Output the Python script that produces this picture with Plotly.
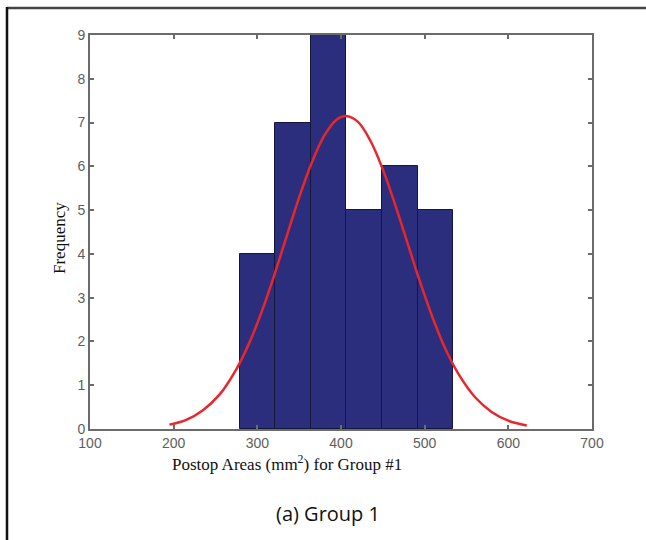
import plotly.graph_objects as go

# Histogram bins (Postop areas, mm^2) and counts
bin_edges = [279, 321.5, 364, 406.5, 449, 491.5, 534]
counts = [4, 7, 9, 5, 6, 5]

# Fitted curve points
curve_x = [195, 215, 235, 255, 275, 290, 305, 320, 335, 350, 365, 380, 395, 406,
           420, 435, 450, 465, 480, 495, 510, 525, 540, 560, 580, 600, 622]
curve_y = [0.10, 0.21, 0.43, 0.79, 1.37, 1.95, 2.67, 3.50, 4.40, 5.29, 6.08, 6.70, 7.07, 7.15,
           7.02, 6.59, 5.93, 5.11, 4.22, 3.33, 2.52, 1.82, 1.27, 0.73, 0.39, 0.19, 0.08]

x_ticks = [100, 200, 300, 400, 500, 600, 700]
y_ticks = [0, 1, 2, 3, 4, 5, 6, 7, 8, 9]

centers = [(a + b) / 2 for a, b in zip(bin_edges[:-1], bin_edges[1:])]
widths = [b - a for a, b in zip(bin_edges[:-1], bin_edges[1:])]

fig = go.Figure()
fig.add_trace(go.Bar(x=centers, y=counts, width=widths,
                     marker=dict(color="#2B2E7C", line=dict(color="#15173a", width=1)),
                     showlegend=False, hoverinfo="skip"))
fig.add_trace(go.Scatter(x=curve_x, y=curve_y, mode="lines", line_shape="spline",
                         line=dict(color="#E8262B", width=2.5), showlegend=False))

L, R, T, B = 90, 592, 35, 429
W, H = 646, 540
pw, ph = R - L, B - T

def px(x):
    return (x - L) / pw

def py(y):
    return (B - y) / ph

axis_common = dict(showgrid=False, zeroline=False, showline=True, linecolor="#6b6b6b",
                   linewidth=2, mirror="ticks", ticks="inside", ticklen=4, tickwidth=1.5,
                   tickcolor="#6b6b6b",
                   tickfont=dict(family="Liberation Sans, Arial", size=14, color="#5e5e5e"))

fig.update_layout(
    width=W, height=H,
    margin=dict(l=L, r=W - R, t=T, b=H - B),
    paper_bgcolor="white", plot_bgcolor="white",
    bargap=0,
    xaxis=dict(range=[100, 700], tickvals=x_ticks, **axis_common),
    yaxis=dict(range=[0, 9], tickvals=y_ticks, **axis_common),
    shapes=[
        dict(type="line", xref="paper", yref="paper", x0=px(7), x1=px(646), y0=py(8), y1=py(8),
             line=dict(color="#444444", width=2.5)),
        dict(type="line", xref="paper", yref="paper", x0=px(7), x1=px(7), y0=py(7), y1=py(540),
             line=dict(color="#111111", width=2.5)),
    ],
    annotations=[
        dict(text="Postop Areas (mm<sup>2</sup>) for Group #1", xref="paper", yref="paper",
             x=px(287), y=py(463), showarrow=False, xanchor="center", yanchor="middle",
             font=dict(family="Liberation Serif, Times New Roman", size=17, color="#111111")),
        dict(text="Frequency", xref="paper", yref="paper", x=px(60), y=py(238), textangle=-90,
             showarrow=False, xanchor="center", yanchor="middle",
             font=dict(family="Liberation Serif, Times New Roman", size=17, color="#111111")),
        dict(text="(a) Group 1", xref="paper", yref="paper", x=px(328), y=py(513),
             showarrow=False, xanchor="center", yanchor="middle",
             font=dict(family="Open Sans, Noto Sans", size=20, color="#111111")),
    ],
)

fig.write_html("out.html")
